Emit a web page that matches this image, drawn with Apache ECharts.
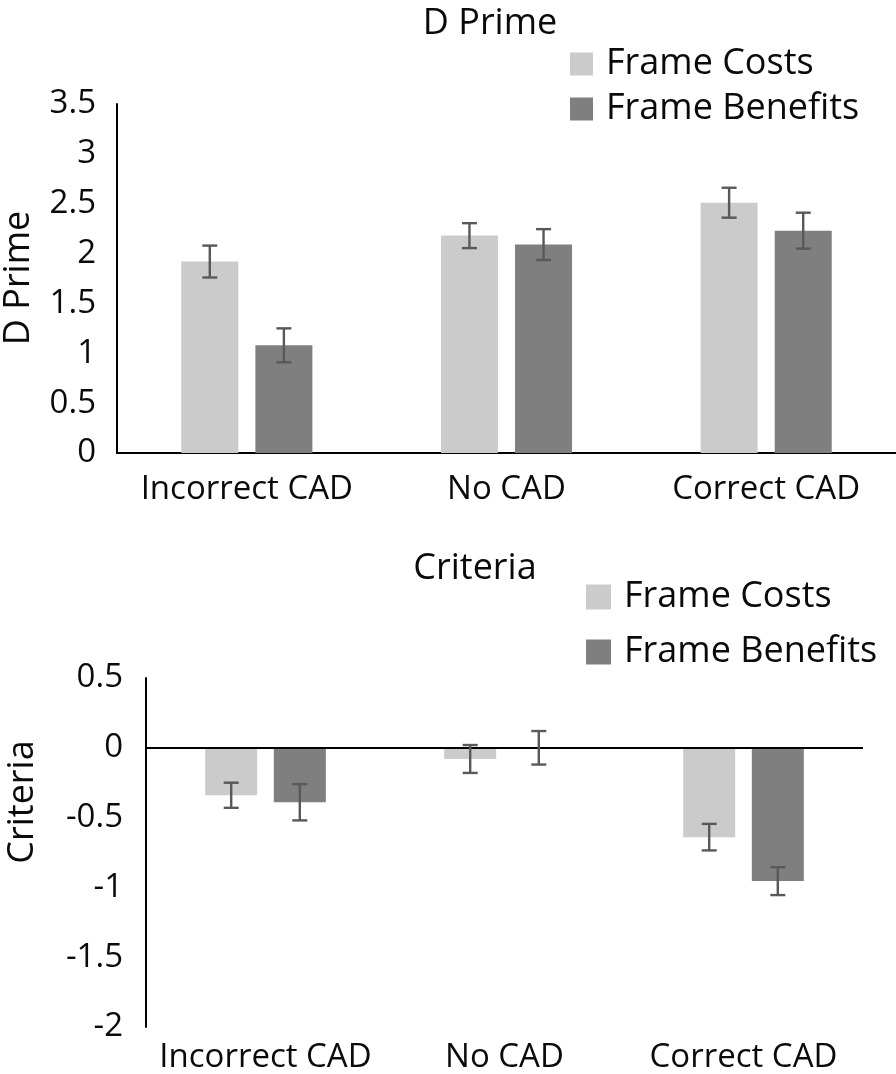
<!DOCTYPE html>
<html><head><meta charset="utf-8">
<script src="https://cdn.jsdelivr.net/npm/echarts@6/dist/echarts.min.js"></script>
<style>html,body{margin:0;padding:0;background:#fff}#c{width:896px;height:1074px}</style>
</head><body><div id="c"></div>
<script>
// ---- data ----
const categories = ['Incorrect CAD', 'No CAD', 'Correct CAD'];
const seriesNames = ['Frame Costs', 'Frame Benefits'];
const dprimeCosts = [1.92, 2.18, 2.51];
const dprimeBenefits = [1.08, 2.09, 2.23];
const dprimeCostsErr = [0.16, 0.125, 0.15];
const dprimeBenefitsErr = [0.17, 0.155, 0.18];
const criteriaCosts = [-0.34, -0.08, -0.64];
const criteriaBenefits = [-0.39, 0.0, -0.955];
const criteriaCostsErr = [0.09, 0.10, 0.095];
const criteriaBenefitsErr = [0.13, 0.12, 0.10];
const dprimeAxis = [0, 3.5, 0.5];     // min, max, interval
const criteriaAxis = [-2, 0.5, 0.5];  // min, max, interval
const titles = ['D Prime', 'Criteria'];

// ---- styles ----
const FONT = '"Open Sans", sans-serif';
const C_COST = '#cbcbcb', C_BEN = '#7f7f7f', C_ERR = '#595959', C_TXT = '#0a0a0a';

function errSeries(name, vals, errs, gridIdx, offset) {
  return {
    type: 'custom', name: name, xAxisIndex: gridIdx, yAxisIndex: gridIdx, z: 5,
    data: vals.map((v, i) => [i, v, errs[i]]),
    encode: { x: 0, y: 1 },
    renderItem: function (params, api) {
      const i = api.value(0), v = api.value(1), e = api.value(2);
      const hi = api.coord([i, v + e]), lo = api.coord([i, v - e]);
      const x = hi[0] + offset, h = 7.5;
      const st = { stroke: C_ERR, lineWidth: 2.4 };
      return { type: 'group', children: [
        { type: 'line', shape: { x1: x, y1: hi[1], x2: x, y2: lo[1] }, style: st },
        { type: 'line', shape: { x1: x - h, y1: hi[1], x2: x + h, y2: hi[1] }, style: st },
        { type: 'line', shape: { x1: x - h, y1: lo[1], x2: x + h, y2: lo[1] }, style: st }
      ]};
    }
  };
}

const chart = echarts.init(document.getElementById('c'));
const tickLab = { color: C_TXT, fontFamily: FONT, fontSize: 33 };
const catLab = { color: C_TXT, fontFamily: FONT, fontSize: 33, interval: 0, hideOverlap: false };
chart.setOption({
  animation: false,
  backgroundColor: '#fff',
  title: [
    { text: titles[0], left: 485, top: 1, textAlign: 'center',
      textStyle: { fontFamily: FONT, fontSize: 36, fontWeight: 'normal', color: C_TXT } },
    { text: titles[1], left: 470, top: 546, textAlign: 'center',
      textStyle: { fontFamily: FONT, fontSize: 36, fontWeight: 'normal', color: C_TXT } }
  ],
  legend: [
    { data: seriesNames, orient: 'vertical', left: 565, top: 41, itemWidth: 23, itemHeight: 23,
      itemGap: 9, icon: 'rect', selectedMode: false,
      textStyle: { fontFamily: FONT, fontSize: 36, color: C_TXT, padding: [0, 0, 0, 8] } },
    { data: seriesNames, orient: 'vertical', left: 581, top: 574, itemWidth: 25, itemHeight: 25,
      itemGap: 19, icon: 'rect', selectedMode: false,
      textStyle: { fontFamily: FONT, fontSize: 36, color: C_TXT, padding: [0, 0, 0, 8] } }
  ],
  grid: [
    { left: 117, right: 0, top: 104, height: 349 },
    { left: 146, right: 33, top: 678, height: 350 }
  ],
  xAxis: [
    { type: 'category', gridIndex: 0, data: categories,
      axisLine: { lineStyle: { color: '#000', width: 2 } }, axisTick: { show: false },
      axisLabel: Object.assign({ margin: 20 }, catLab) },
    { type: 'category', gridIndex: 1, data: categories, position: 'bottom',
      axisLine: { show: false, onZero: false }, axisTick: { show: false },
      axisLabel: Object.assign({ margin: 14 }, catLab) }
  ],
  yAxis: [
    { type: 'value', gridIndex: 0, min: dprimeAxis[0], max: dprimeAxis[1], interval: dprimeAxis[2],
      axisLine: { show: true, lineStyle: { color: '#000', width: 2 } }, axisTick: { show: false },
      splitLine: { show: false }, axisLabel: Object.assign({ margin: 21 }, tickLab) },
    { type: 'value', gridIndex: 1, min: criteriaAxis[0], max: criteriaAxis[1], interval: criteriaAxis[2],
      axisLine: { show: true, lineStyle: { color: '#000', width: 2 } }, axisTick: { show: false },
      splitLine: { show: false }, axisLabel: Object.assign({ margin: 23 }, tickLab) }
  ],
  graphic: [
    { type: 'text', x: 19, y: 278, rotation: Math.PI / 2,
      style: { text: titles[0], font: '36px ' + FONT, fill: C_TXT, textAlign: 'center', textVerticalAlign: 'middle' } },
    { type: 'text', x: 23, y: 802, rotation: Math.PI / 2,
      style: { text: titles[1], font: '36px ' + FONT, fill: C_TXT, textAlign: 'center', textVerticalAlign: 'middle' } }
  ],
  series: [
    { type: 'bar', name: seriesNames[0], xAxisIndex: 0, yAxisIndex: 0, data: dprimeCosts,
      barWidth: 57, barGap: '30%', itemStyle: { color: C_COST } },
    { type: 'bar', name: seriesNames[1], xAxisIndex: 0, yAxisIndex: 0, data: dprimeBenefits,
      barWidth: 57, barGap: '30%', itemStyle: { color: C_BEN } },
    { type: 'bar', name: seriesNames[0], xAxisIndex: 1, yAxisIndex: 1, data: criteriaCosts,
      barWidth: 52, barGap: '32%', itemStyle: { color: C_COST } },
    { type: 'bar', name: seriesNames[1], xAxisIndex: 1, yAxisIndex: 1, data: criteriaBenefits,
      barWidth: 52, barGap: '32%', itemStyle: { color: C_BEN },
      markLine: { silent: true, symbol: 'none', label: { show: false },
        lineStyle: { color: '#000', type: 'solid', width: 2 }, data: [{ yAxis: 0 }] } },
    errSeries('err1', dprimeCosts, dprimeCostsErr, 0, -37.05),
    errSeries('err2', dprimeBenefits, dprimeBenefitsErr, 0, 37.05),
    errSeries('err3', criteriaCosts, criteriaCostsErr, 1, -34.3),
    errSeries('err4', criteriaBenefits, criteriaBenefitsErr, 1, 34.3)
  ]
});
</script></body></html>
